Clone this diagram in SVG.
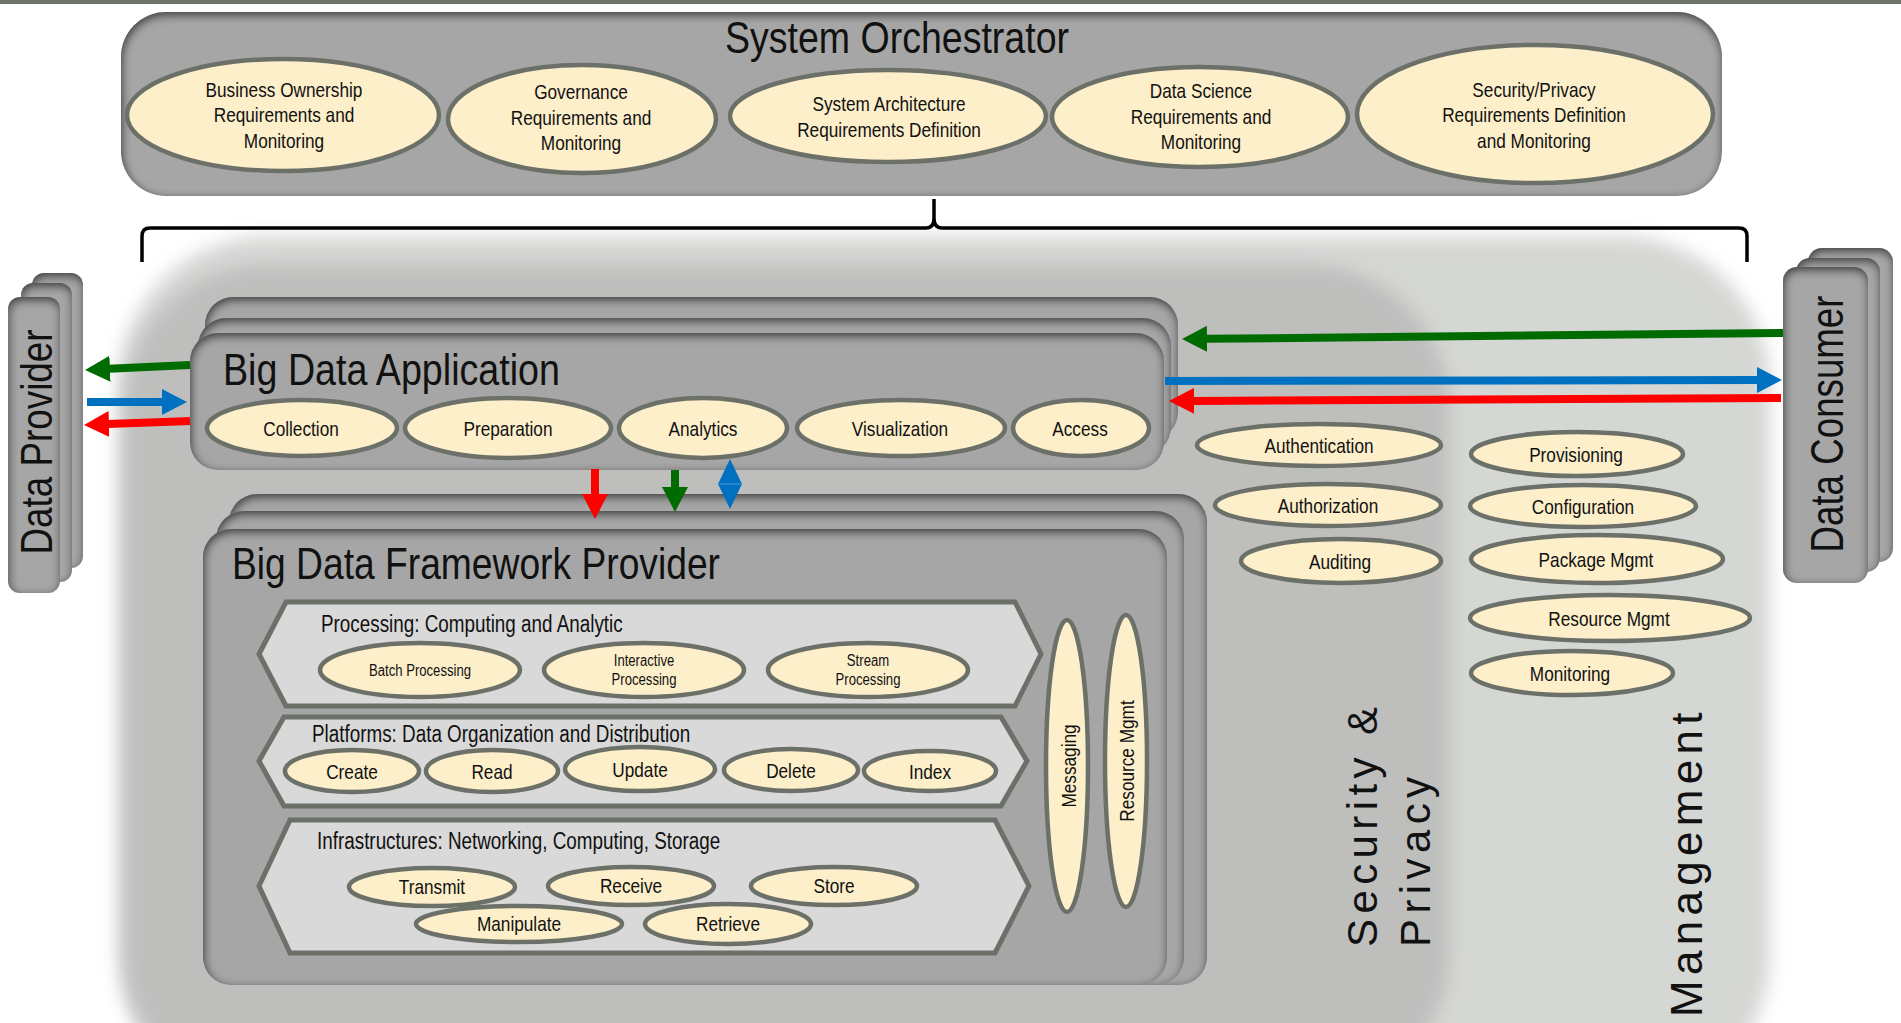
<svg xmlns="http://www.w3.org/2000/svg" width="1901" height="1023" viewBox="0 0 1901 1023">
<defs>
<style>
.t{font-family:"Liberation Sans",Arial,"DejaVu Sans",sans-serif;fill:#111}
.s21{font-size:21px}
.s16{font-size:16px}
.s23{font-size:23px}
.ttl{font-size:44px}
.e{fill:#fdefca;stroke:#6b7068;stroke-width:4.5}
.box{fill:#a6a6a6}
.hex{fill:#d9d9d9;stroke:#6b7068;stroke-width:5}
.ag{stroke:#006b00;stroke-width:8;fill:none}
.ab{stroke:#0070c0;stroke-width:8;fill:none}
.ar{stroke:#ff0000;stroke-width:8;fill:none}
.sp{font-size:42px;letter-spacing:5.4px}
</style>
<filter id="inset" x="-10%" y="-10%" width="120%" height="120%" color-interpolation-filters="sRGB">
<feFlood flood-color="#303030" flood-opacity="0.9" result="fl"/>
<feComposite in="fl" in2="SourceAlpha" operator="out" result="outside"/>
<feGaussianBlur in="outside" stdDeviation="5" result="bl"/>
<feOffset in="bl" dx="1" dy="3" result="of"/>
<feComposite in="of" in2="SourceAlpha" operator="in" result="ins"/>
<feMerge><feMergeNode in="SourceGraphic"/><feMergeNode in="ins"/></feMerge>
</filter>
<filter id="soft" x="-5%" y="-5%" width="110%" height="110%"><feGaussianBlur stdDeviation="9"/></filter>
<marker id="hg" markerUnits="userSpaceOnUse" markerWidth="26" markerHeight="26" refX="1" refY="13" orient="auto" viewBox="0 0 26 26"><path d="M0 0L25 13L0 26Z" fill="#006b00"/></marker>
<marker id="hb" markerUnits="userSpaceOnUse" markerWidth="26" markerHeight="26" refX="1" refY="13" orient="auto" viewBox="0 0 26 26"><path d="M0 0L25 13L0 26Z" fill="#0070c0"/></marker>
<marker id="hr" markerUnits="userSpaceOnUse" markerWidth="26" markerHeight="26" refX="1" refY="13" orient="auto" viewBox="0 0 26 26"><path d="M0 0L25 13L0 26Z" fill="#ff0000"/></marker>
</defs>

<rect x="0" y="0" width="1901" height="1023" fill="#ffffff"/>
<rect x="0" y="0" width="1901" height="4" fill="#6e7369"/>

<g id="management-region">
<rect x="118" y="236" width="1652" height="870" rx="150" fill="#d5d7d4" filter="url(#soft)"/>
<text class="t" font-size="44" letter-spacing="5.3" transform="translate(1702 1017) rotate(-90)">Management</text>
</g>

<g id="security-privacy-region">
<rect x="125" y="265" width="1324" height="830" rx="140" fill="#bebfbd" filter="url(#soft)"/>
<text class="t sp" transform="translate(1377 947) rotate(-90)">Security &amp;</text>
<text class="t sp" transform="translate(1430 947) rotate(-90)">Privacy</text>
</g>

<g id="system-orchestrator">
<rect class="box" x="121" y="12" width="1601" height="184" rx="45" filter="url(#inset)"/>
<text class="t ttl" x="897" y="53" text-anchor="middle" textLength="344" lengthAdjust="spacingAndGlyphs">System Orchestrator</text>
</g>
<g id="business-ownership">
<ellipse class="e" cx="283" cy="115" rx="156" ry="56"/>
<text class="t s21" transform="translate(284 0) scale(0.82 1)" text-anchor="middle"><tspan x="0" y="97">Business Ownership</tspan><tspan x="0" y="122.5">Requirements and</tspan><tspan x="0" y="148">Monitoring</tspan></text>
</g>
<g id="governance">
<ellipse class="e" cx="582" cy="119" rx="134" ry="54"/>
<text class="t s21" transform="translate(581 0) scale(0.82 1)" text-anchor="middle"><tspan x="0" y="99.5">Governance</tspan><tspan x="0" y="125">Requirements and</tspan><tspan x="0" y="150.5">Monitoring</tspan></text>
</g>
<g id="system-architecture">
<ellipse class="e" cx="888" cy="116" rx="158" ry="46"/>
<text class="t s21" transform="translate(889 0) scale(0.82 1)" text-anchor="middle"><tspan x="0" y="111.5">System Architecture</tspan><tspan x="0" y="137">Requirements Definition</tspan></text>
</g>
<g id="data-science">
<ellipse class="e" cx="1200" cy="117" rx="148" ry="50"/>
<text class="t s21" transform="translate(1201 0) scale(0.82 1)" text-anchor="middle"><tspan x="0" y="98.5">Data Science</tspan><tspan x="0" y="124">Requirements and</tspan><tspan x="0" y="149.5">Monitoring</tspan></text>
</g>
<g id="security-privacy-requirements">
<ellipse class="e" cx="1535" cy="114" rx="178" ry="69"/>
<text class="t s21" transform="translate(1534 0) scale(0.82 1)" text-anchor="middle"><tspan x="0" y="97.5">Security/Privacy</tspan><tspan x="0" y="122.5">Requirements Definition</tspan><tspan x="0" y="148">and Monitoring</tspan></text>
</g>

<g id="data-provider">
<rect class="box" x="32" y="273" width="51" height="295" rx="12" filter="url(#inset)"/>
<rect class="box" x="21" y="283" width="51" height="299" rx="12" filter="url(#inset)"/>
<rect class="box" x="8" y="297" width="52" height="296" rx="12" filter="url(#inset)"/>
<text class="t" font-size="44" transform="translate(52 442) rotate(-90)" text-anchor="middle" textLength="225" lengthAdjust="spacingAndGlyphs">Data Provider</text>
</g>

<g id="data-consumer">
<rect class="box" x="1808" y="248" width="85" height="314" rx="14" filter="url(#inset)"/>
<rect class="box" x="1796" y="258" width="84" height="314" rx="14" filter="url(#inset)"/>
<rect class="box" x="1783" y="267" width="85" height="316" rx="14" filter="url(#inset)"/>
<text class="t" font-size="46" transform="translate(1843 424) rotate(-90)" text-anchor="middle" textLength="257" lengthAdjust="spacingAndGlyphs">Data Consumer</text>
</g>

<g id="big-data-application">
<rect class="box" x="205" y="297" width="973" height="143" rx="28" filter="url(#inset)"/>
<rect class="box" x="198" y="318" width="973" height="137" rx="28" filter="url(#inset)"/>
<rect class="box" x="190" y="333" width="974" height="137" rx="28" filter="url(#inset)"/>
<text class="t ttl" x="223" y="385" textLength="337" lengthAdjust="spacingAndGlyphs">Big Data Application</text>
</g>
<g id="collection"><ellipse class="e" cx="302" cy="428" rx="95" ry="28"/><text class="t s21" transform="translate(301 435.5) scale(0.82 1)" text-anchor="middle">Collection</text></g>
<g id="preparation"><ellipse class="e" cx="508" cy="428" rx="103" ry="30"/><text class="t s21" transform="translate(508 435.5) scale(0.82 1)" text-anchor="middle">Preparation</text></g>
<g id="analytics"><ellipse class="e" cx="703" cy="428" rx="84" ry="30"/><text class="t s21" transform="translate(703 435.5) scale(0.82 1)" text-anchor="middle">Analytics</text></g>
<g id="visualization"><ellipse class="e" cx="901" cy="428" rx="104" ry="28"/><text class="t s21" transform="translate(900 435.5) scale(0.82 1)" text-anchor="middle">Visualization</text></g>
<g id="access"><ellipse class="e" cx="1081" cy="428" rx="68" ry="28"/><text class="t s21" transform="translate(1080 435.5) scale(0.82 1)" text-anchor="middle">Access</text></g>

<g id="big-data-framework-provider">
<rect class="box" x="229" y="494" width="978" height="491" rx="28" filter="url(#inset)"/>
<rect class="box" x="216" y="511" width="968" height="474" rx="28" filter="url(#inset)"/>
<rect class="box" x="203" y="529" width="964" height="456" rx="28" filter="url(#inset)"/>
<text class="t ttl" x="232" y="579" textLength="488" lengthAdjust="spacingAndGlyphs">Big Data Framework Provider</text>
</g>

<g id="processing">
<polygon class="hex" points="259,654 286,602 1015,602 1041,654 1015,706 286,706"/>
<text class="t s23" transform="translate(321 632) scale(0.82 1)">Processing: Computing and Analytic</text>
</g>
<g id="batch-processing"><ellipse class="e" cx="420" cy="670" rx="100" ry="27"/><text class="t s16" transform="translate(420 676) scale(0.82 1)" text-anchor="middle">Batch Processing</text></g>
<g id="interactive-processing"><ellipse class="e" cx="644" cy="670" rx="100" ry="27"/><text class="t s16" transform="translate(644 0) scale(0.82 1)" text-anchor="middle"><tspan x="0" y="666.5">Interactive</tspan><tspan x="0" y="685.5">Processing</tspan></text></g>
<g id="stream-processing"><ellipse class="e" cx="868" cy="670" rx="100" ry="27"/><text class="t s16" transform="translate(868 0) scale(0.82 1)" text-anchor="middle"><tspan x="0" y="666.5">Stream</tspan><tspan x="0" y="685.5">Processing</tspan></text></g>

<g id="platforms">
<polygon class="hex" points="259,761 284,717 1001,717 1027,761 1001,806 284,806"/>
<text class="t s23" transform="translate(312 742) scale(0.82 1)">Platforms: Data Organization and Distribution</text>
</g>
<g id="create"><ellipse class="e" cx="352" cy="771" rx="67" ry="21"/><text class="t s21" transform="translate(352 778.5) scale(0.82 1)" text-anchor="middle">Create</text></g>
<g id="read"><ellipse class="e" cx="492" cy="771" rx="66" ry="21"/><text class="t s21" transform="translate(492 778.5) scale(0.82 1)" text-anchor="middle">Read</text></g>
<g id="update"><ellipse class="e" cx="640" cy="769" rx="75" ry="22"/><text class="t s21" transform="translate(640 776.5) scale(0.82 1)" text-anchor="middle">Update</text></g>
<g id="delete"><ellipse class="e" cx="791" cy="770" rx="67" ry="21"/><text class="t s21" transform="translate(791 777.5) scale(0.82 1)" text-anchor="middle">Delete</text></g>
<g id="index"><ellipse class="e" cx="930" cy="771" rx="66" ry="20"/><text class="t s21" transform="translate(930 778.5) scale(0.82 1)" text-anchor="middle">Index</text></g>

<g id="infrastructures">
<polygon class="hex" points="259,886 290,820 995,820 1029,886 995,953 290,953"/>
<text class="t s23" transform="translate(317 849) scale(0.82 1)">Infrastructures: Networking, Computing, Storage</text>
</g>
<g id="transmit"><ellipse class="e" cx="432" cy="887" rx="83" ry="19"/><text class="t s21" transform="translate(432 894) scale(0.82 1)" text-anchor="middle">Transmit</text></g>
<g id="receive"><ellipse class="e" cx="631" cy="886" rx="83" ry="19"/><text class="t s21" transform="translate(631 893) scale(0.82 1)" text-anchor="middle">Receive</text></g>
<g id="store"><ellipse class="e" cx="834" cy="886" rx="83" ry="19"/><text class="t s21" transform="translate(834 893) scale(0.82 1)" text-anchor="middle">Store</text></g>
<g id="manipulate"><ellipse class="e" cx="519" cy="924" rx="103" ry="18"/><text class="t s21" transform="translate(519 931) scale(0.82 1)" text-anchor="middle">Manipulate</text></g>
<g id="retrieve"><ellipse class="e" cx="728" cy="924" rx="83" ry="20"/><text class="t s21" transform="translate(728 931) scale(0.82 1)" text-anchor="middle">Retrieve</text></g>

<g id="messaging"><ellipse class="e" cx="1067" cy="766" rx="21" ry="146"/><text class="t s21" transform="translate(1076 766) rotate(-90) scale(0.82 1)" text-anchor="middle">Messaging</text></g>
<g id="resource-mgmt-framework"><ellipse class="e" cx="1126" cy="761" rx="21" ry="146"/><text class="t s21" transform="translate(1134 761) rotate(-90) scale(0.82 1)" text-anchor="middle">Resource Mgmt</text></g>

<g id="authentication"><ellipse class="e" cx="1319" cy="445" rx="122" ry="21"/><text class="t s21" transform="translate(1319 452.5) scale(0.82 1)" text-anchor="middle">Authentication</text></g>
<g id="authorization"><ellipse class="e" cx="1328" cy="505" rx="113" ry="21"/><text class="t s21" transform="translate(1328 512.5) scale(0.82 1)" text-anchor="middle">Authorization</text></g>
<g id="auditing"><ellipse class="e" cx="1341" cy="561" rx="100" ry="22"/><text class="t s21" transform="translate(1340 568.5) scale(0.82 1)" text-anchor="middle">Auditing</text></g>

<g id="provisioning"><ellipse class="e" cx="1577" cy="454" rx="106" ry="22"/><text class="t s21" transform="translate(1576 461.5) scale(0.82 1)" text-anchor="middle">Provisioning</text></g>
<g id="configuration"><ellipse class="e" cx="1583" cy="506" rx="113" ry="21"/><text class="t s21" transform="translate(1583 513.5) scale(0.82 1)" text-anchor="middle">Configuration</text></g>
<g id="package-mgmt"><ellipse class="e" cx="1597" cy="559" rx="126" ry="24"/><text class="t s21" transform="translate(1596 566.5) scale(0.82 1)" text-anchor="middle">Package Mgmt</text></g>
<g id="resource-mgmt"><ellipse class="e" cx="1610" cy="618" rx="140" ry="23"/><text class="t s21" transform="translate(1609 625.5) scale(0.82 1)" text-anchor="middle">Resource Mgmt</text></g>
<g id="monitoring"><ellipse class="e" cx="1572" cy="673" rx="101" ry="22"/><text class="t s21" transform="translate(1570 680.5) scale(0.82 1)" text-anchor="middle">Monitoring</text></g>

<g id="connectors">
<path d="M142 262V236Q142 228 150 228H926Q934 228 934 218V199V218Q934 228 942 228H1739Q1747 228 1747 236V262" fill="none" stroke="#000" stroke-width="3.5"/>
<line class="ag" x1="190" y1="365" x2="109" y2="368.8" marker-end="url(#hg)"/>
<line class="ab" x1="87" y1="402" x2="163" y2="402" marker-end="url(#hb)"/>
<line class="ar" x1="190" y1="421" x2="108" y2="424" marker-end="url(#hr)"/>
<line class="ag" x1="1783" y1="333" x2="1206" y2="338.8" marker-end="url(#hg)"/>
<line class="ab" x1="1165" y1="381" x2="1758" y2="380" marker-end="url(#hb)"/>
<line class="ar" x1="1781" y1="398" x2="1193" y2="400.9" marker-end="url(#hr)"/>
<line class="ar" x1="595" y1="469" x2="595" y2="495" marker-end="url(#hr)"/>
<line class="ag" x1="675" y1="470" x2="675" y2="488" marker-end="url(#hg)"/>
<polygon points="730,459 742,484 730,509 718,484" fill="#0070c0"/>
<line x1="719" y1="484" x2="741" y2="484" stroke="#4a9ad6" stroke-width="1"/>
</g>
</svg>
